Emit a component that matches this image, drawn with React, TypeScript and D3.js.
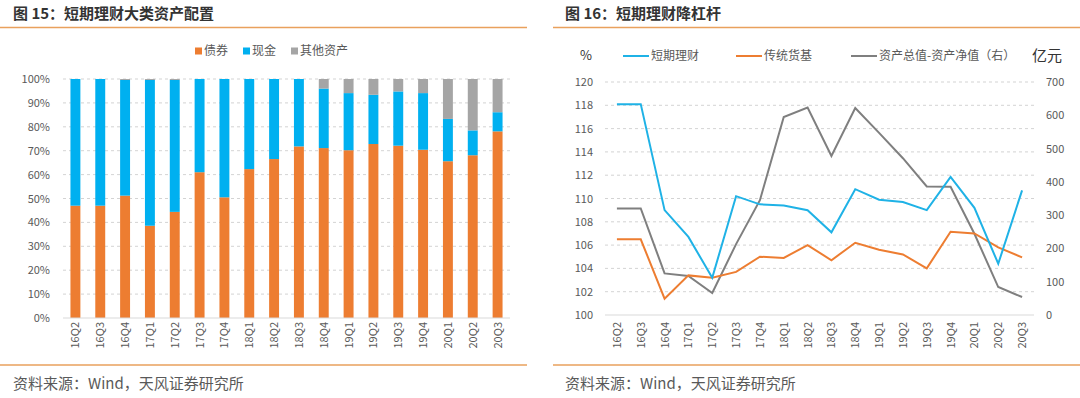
import React from "react";
import * as d3 from "d3";

const quarters = ["16Q2","16Q3","16Q4","17Q1","17Q2","17Q3","17Q4","18Q1","18Q2","18Q3","18Q4","19Q1","19Q2","19Q3","19Q4","20Q1","20Q2","20Q3"];

// Left chart: asset allocation (%)
const bondShare = [47.0,47.0,51.2,38.6,44.4,61.0,50.5,62.3,66.5,71.8,71.1,70.2,72.8,72.1,70.4,65.6,68.1,78.1];
const cashShare = [53.0,53.0,48.4,61.0,55.2,39.0,49.5,37.7,33.5,28.2,24.9,23.9,20.6,22.7,23.7,17.7,10.4,8.0];
const otherShare = [0.0,0.0,0.4,0.4,0.4,0.0,0.0,0.0,0.0,0.0,4.0,5.9,6.6,5.2,5.9,16.7,21.5,13.9];
const leftSeriesNames = ["债券","现金","其他资产"];
const leftTicks = [0,10,20,30,40,50,60,70,80,90,100];

// Right chart: leverage
const shortTermWM = [118.1,118.1,109.0,106.7,103.2,110.2,109.5,109.4,109.0,107.1,110.8,109.9,109.7,109.0,111.85,109.2,104.4,110.7];
const moneyFund = [106.5,106.5,101.4,103.4,103.2,103.7,105.0,104.9,106.0,104.7,106.2,105.6,105.2,104.0,107.15,107.0,105.8,104.95];
const assetGap = [320,320,125,117,66,213,345,595,623,478,622,547,471,386,385,244,84,54];
const rightSeriesNames = ["短期理财","传统货基","资产总值-资产净值（右）"];
const leftAxisTicks = [100,102,104,106,108,110,112,114,116,118,120];
const rightAxisTicks = [0,100,200,300,400,500,600,700];

const C_ORANGE = "#ED7D31";
const C_BLUE = "#00B0F0";
const C_GRAY = "#A5A5A5";
const L_BLUE = "#1FB2E6";
const L_ORANGE = "#ED7D31";
const L_GRAY = "#7F7F7F";
const RULE = "#E9A15D";
const TXT = "#595959";
const FONT = "'Noto Sans CJK SC', 'Noto Sans', sans-serif";

function LeftChart() {
  const x0 = 63, x1 = 510, y0 = 318, y1 = 79;
  const x = d3.scaleBand<string>().domain(quarters).range([x0, x1]).paddingInner(0.6).paddingOuter(0.3);
  const y = d3.scaleLinear().domain([0, 100]).range([y0, y1]);
  const stackData = quarters.map((q, i) => ({ q, b: bondShare[i], c: cashShare[i], o: otherShare[i] }));
  const stack = d3.stack<any>().keys(["b", "c", "o"])(stackData);
  const colors = [C_ORANGE, C_BLUE, C_GRAY];
  const legendX = [195, 243, 291];
  return (
    <g>
      <text x={13} y={19} fontSize={15} fontWeight="bold" fill="#333">图 15：短期理财大类资产配置</text>
      <line x1={0} x2={527} y1={27.5} y2={27.5} stroke={RULE} strokeWidth={1.5} />
      {leftSeriesNames.map((n, i) => (
        <g key={n}>
          <rect x={legendX[i]} y={47.5} width={7} height={7} fill={colors[i]} />
          <text x={legendX[i] + 9} y={55} fontSize={12} fill={TXT}>{n}</text>
        </g>
      ))}
      {leftTicks.map((t) => (
        <g key={t}>
          {t > 0 && <line x1={x0} x2={x1} y1={y(t)} y2={y(t)} stroke="#C8C8C8" strokeDasharray="3,3" strokeWidth={0.8} />}
          <text x={50} y={y(t) + 4} fontSize={11} textAnchor="end" fill={TXT}>{t}%</text>
        </g>
      ))}
      {stack.map((s, si) => (
        <g key={si}>
          {s.map((d: any, i: number) => (
            <rect key={i} x={x(quarters[i])} y={y(d[1])} width={x.bandwidth()} height={Math.max(0, y(d[0]) - y(d[1]))} fill={colors[si]} />
          ))}
        </g>
      ))}
      <line x1={x0} x2={x1} y1={y0} y2={y0} stroke="#D9D9D9" strokeWidth={1} />
      {quarters.map((q) => (
        <text key={q} transform={`translate(${(x(q) as number) + x.bandwidth() / 2 + 4},322) rotate(-90)`} fontSize={11} textAnchor="end" fill={TXT}>{q}</text>
      ))}
      <line x1={0} x2={527} y1={365} y2={365} stroke={RULE} strokeWidth={1.5} />
      <text x={13} y={389} fontSize={15} fill={TXT}>资料来源：Wind，天风证券研究所</text>
    </g>
  );
}

function RightChart() {
  const x0 = 605, x1 = 1034, y0 = 315, y1 = 82;
  const x = d3.scalePoint<string>().domain(quarters).range([x0, x1]).padding(0.5);
  const yL = d3.scaleLinear().domain([100, 120]).range([y0, y1]);
  const yR = d3.scaleLinear().domain([0, 700]).range([y0, y1]);
  const lineL = d3.line<number>().x((_, i) => x(quarters[i]) as number).y((v) => yL(v));
  const lineR = d3.line<number>().x((_, i) => x(quarters[i]) as number).y((v) => yR(v));
  const legend = [
    { n: rightSeriesNames[0], c: L_BLUE, x: 623 },
    { n: rightSeriesNames[1], c: L_ORANGE, x: 736 },
    { n: rightSeriesNames[2], c: L_GRAY, x: 851 },
  ];
  return (
    <g>
      <text x={565} y={19} fontSize={15} fontWeight="bold" fill="#333">图 16：短期理财降杠杆</text>
      <line x1={553} x2={1080} y1={27.5} y2={27.5} stroke={RULE} strokeWidth={1.5} />
      <text x={580} y={60} fontSize={13} fill="#333">%</text>
      <text x={1032} y={61} fontSize={15} fill="#333">亿元</text>
      {legend.map((l) => (
        <g key={l.n}>
          <line x1={l.x} x2={l.x + 26} y1={56} y2={56} stroke={l.c} strokeWidth={2} />
          <text x={l.x + 28} y={60} fontSize={12} fill={TXT}>{l.n}</text>
        </g>
      ))}
      {leftAxisTicks.map((t) => (
        <g key={t}>
          {t > 100 && <line x1={x0} x2={x1} y1={yL(t)} y2={yL(t)} stroke="#C8C8C8" strokeDasharray="3,3" strokeWidth={0.8} />}
          <text x={593} y={yL(t) + 4} fontSize={11} textAnchor="end" fill={TXT}>{t}</text>
        </g>
      ))}
      {rightAxisTicks.map((t) => (
        <text key={t} x={1046} y={yR(t) + 4} fontSize={11} textAnchor="start" fill={TXT}>{t}</text>
      ))}
      <line x1={x0} x2={x1} y1={y0} y2={y0} stroke="#D9D9D9" strokeWidth={1} />
      <path d={lineR(assetGap) as string} fill="none" stroke={L_GRAY} strokeWidth={2} />
      <path d={lineL(moneyFund) as string} fill="none" stroke={L_ORANGE} strokeWidth={2} />
      <path d={lineL(shortTermWM) as string} fill="none" stroke={L_BLUE} strokeWidth={2} />
      {quarters.map((q) => (
        <text key={q} transform={`translate(${(x(q) as number) + 4},322) rotate(-90)`} fontSize={11} textAnchor="end" fill={TXT}>{q}</text>
      ))}
      <line x1={553} x2={1080} y1={365} y2={365} stroke={RULE} strokeWidth={1.5} />
      <text x={565} y={389} fontSize={15} fill={TXT}>资料来源：Wind，天风证券研究所</text>
    </g>
  );
}

export default function App() {
  return (
    <svg width={1080} height={398} style={{ position: "absolute", left: 0, top: 0, background: "#fff", fontFamily: FONT }}>
      <rect width={1080} height={398} fill="#fff" />
      <LeftChart />
      <RightChart />
    </svg>
  );
}
